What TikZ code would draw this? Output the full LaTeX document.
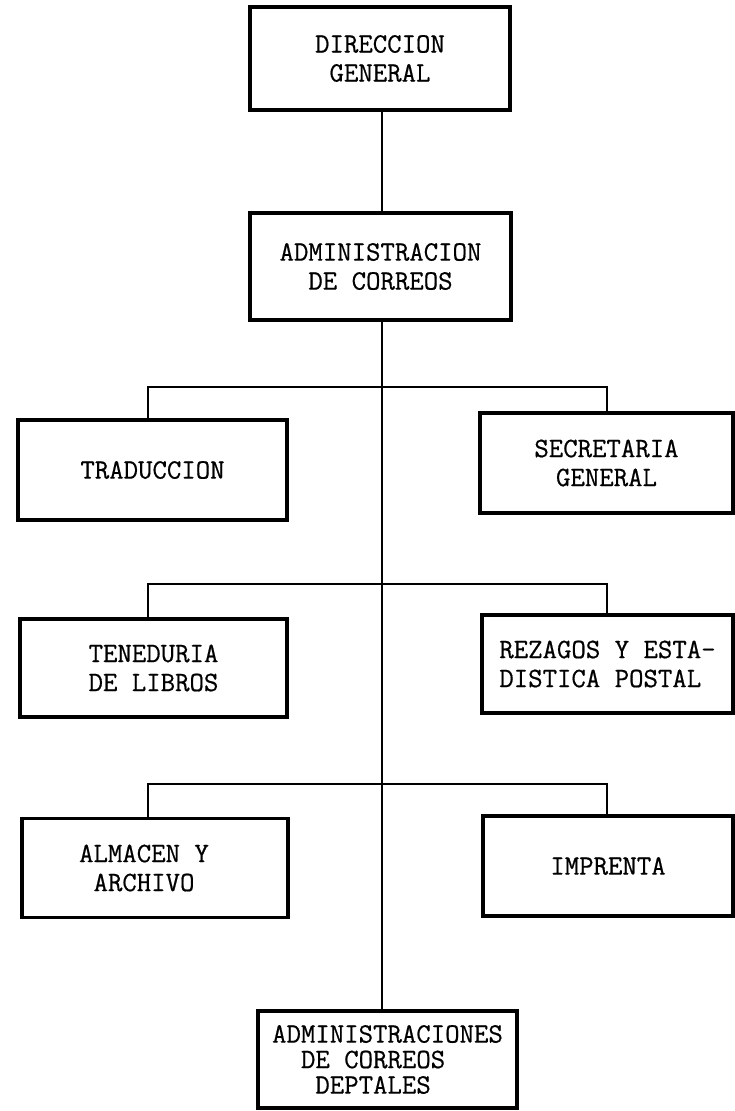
\documentclass[tikz,border=0pt]{standalone}
\usepackage{fontspec}
\newfontfamily\tw{Latin Modern Mono}[FakeBold=0.6]
\begin{document}
\begin{tikzpicture}[x=1pt,y=-1pt,
  box/.style={draw, line width=3.2pt, inner sep=0pt, align=center,
    font=\tw\fontsize{28}{29}\selectfont},
  link/.style={line width=2.2pt}]
\useasboundingbox (0,0) rectangle (735,1111);
\node[box, minimum width=260pt, minimum height=103pt] (dg) at (380,58.5) {DIRECCION\\GENERAL};
\node[box, minimum width=261pt, minimum height=107pt] (ac) at (380.5,266.5) {ADMINISTRACION\\DE CORREOS};
\node[box, minimum width=269pt, minimum height=100pt] (tr) at (152.5,470) {TRADUCCION};
\node[box, minimum width=253pt, minimum height=100pt] (sg) at (606.5,463) {SECRETARIA\\GENERAL};
\node[box, minimum width=267pt, minimum height=98pt] (td) at (153.5,668) {TENEDURIA\\DE LIBROS};
\node[box, minimum width=251pt, minimum height=98pt, align=left] (rz) at (607.5,664) {REZAGOS Y ESTA-\\DISTICA POSTAL};
\node[box, minimum width=266pt, minimum height=99pt] (al) at (155,868) {ALMACEN Y\hspace*{22pt}\\ARCHIVO\hspace*{22pt}};
\node[box, minimum width=250pt, minimum height=100pt] (im) at (608,866) {IMPRENTA};
\node[box, minimum width=259pt, minimum height=97pt, align=left,
  font=\tw\fontsize{28}{25.5}\selectfont] (ad) at (387.5,1059.5)
  {ADMINISTRACIONES\\\phantom{XX}DE CORREOS\\\phantom{XXX}DEPTALES};
\coordinate (v) at (382,0);
\draw[link] (dg.south -| v) -- (ac.north -| v);
\draw[link] (ac.south -| v) -- (ad.north -| v);
\coordinate (l1) at (148,387); \coordinate (r1) at (607,387);
\coordinate (l2) at (148,584); \coordinate (r2) at (607,584);
\coordinate (l3) at (148,784); \coordinate (r3) at (607,784);
\draw[link] (tr.north -| l1) -- (l1) -- (r1) -- (sg.north -| r1);
\draw[link] (td.north -| l2) -- (l2) -- (r2) -- (rz.north -| r2);
\draw[link] (al.north -| l3) -- (l3) -- (r3) -- (im.north -| r3);
\end{tikzpicture}
\end{document}
